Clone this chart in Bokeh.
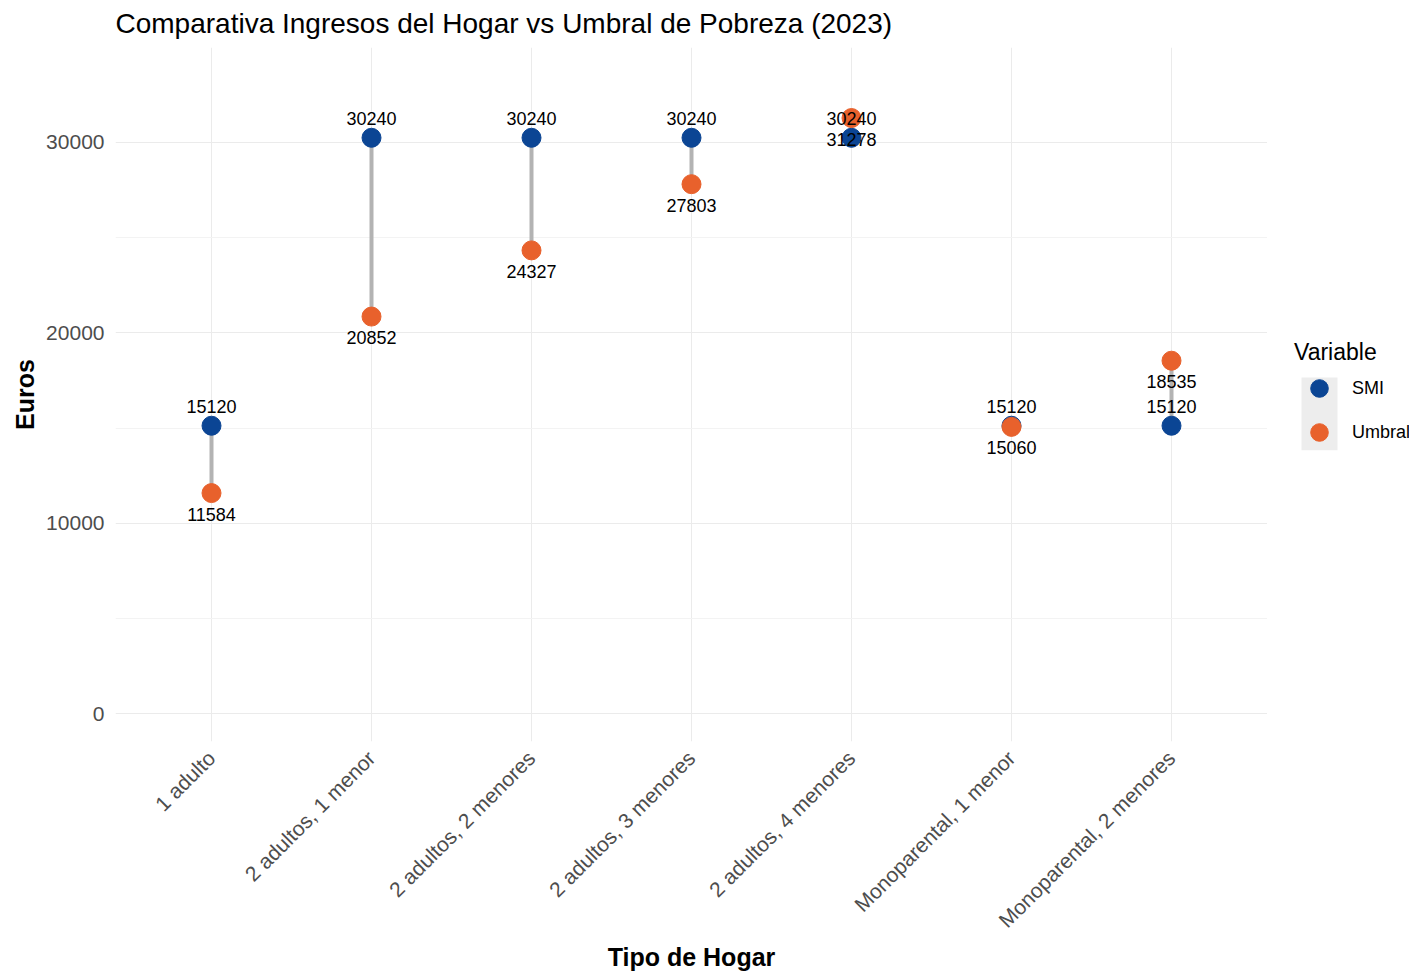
import numpy as np
from bokeh.plotting import figure
from bokeh.layouts import row
from bokeh.models import (ColumnDataSource, Range1d, FixedTicker, Legend, LegendItem)
from bokeh.embed import file_html
from bokeh.resources import INLINE
from bokeh.core.properties import value

categories = ["1 adulto", "2 adultos, 1 menor", "2 adultos, 2 menores", "2 adultos, 3 menores",
              "2 adultos, 4 menores", "Monoparental, 1 menor", "Monoparental, 2 menores"]
smi = [15120, 30240, 30240, 30240, 30240, 15120, 15120]
umbral = [11584, 20852, 24327, 27803, 31278, 15060, 18535]
series = ["SMI", "Umbral"]

BLUE = "#0B4594"
ORANGE = "#E8612C"
FONT = "Liberation Sans"

xs = list(range(len(categories)))
src = ColumnDataSource(dict(x=xs, smi=smi, umbral=umbral,
                            smi_lab=[str(v) for v in smi],
                            umb_lab=[str(v) for v in umbral]))

p = figure(width=1267, height=973, output_backend="svg", toolbar_location=None,
           x_range=Range1d(-0.6, 6.6), y_range=Range1d(-1460, 34980),
           min_border_left=115, min_border_top=47, min_border_bottom=230, min_border_right=0,
           background_fill_color="white", border_fill_color="white", outline_line_color=None)

p.title.text = "Comparativa Ingresos del Hogar vs Umbral de Pobreza (2023)"
p.title.text_font = FONT
p.title.text_font_size = "28px"
p.title.text_font_style = "normal"
p.title.text_color = "black"
p.title.vertical_align = "top"
p.title.standoff = 13

p.segment(x0="x", y0="smi", x1="x", y1="umbral", source=src, line_color="#B3B3B3", line_width=4)
p.scatter(x="x", y="smi", source=src, size=19, fill_color=BLUE, line_color=BLUE)
p.scatter(x="x", y="umbral", source=src, size=19, fill_color=ORANGE, line_color=ORANGE)

p.text(x="x", y="smi", text="smi_lab", source=src, y_offset=-19, text_align="center",
       text_baseline="middle", text_font=value(FONT), text_font_size="18px", text_color="black")
p.text(x="x", y="umbral", text="umb_lab", source=src, y_offset=21, text_align="center",
       text_baseline="middle", text_font=value(FONT), text_font_size="18px", text_color="black")

# axes
p.xaxis.ticker = FixedTicker(ticks=xs)
p.xaxis.major_label_overrides = {i: c for i, c in enumerate(categories)}
p.xaxis.major_label_orientation = np.pi / 4
p.yaxis.ticker = FixedTicker(ticks=[0, 10000, 20000, 30000], minor_ticks=[5000, 15000, 25000])
for ax in (p.xaxis, p.yaxis):
    ax.axis_line_color = None
    ax.major_tick_line_color = None
    ax.minor_tick_line_color = None
    ax.major_tick_out = 0
    ax.minor_tick_out = 0
    ax.major_label_text_font = FONT
    ax.major_label_text_font_size = "21px"
    ax.major_label_text_color = "#4D4D4D"
    ax.axis_label_text_font = FONT
    ax.axis_label_text_font_size = "25px"
    ax.axis_label_text_font_style = "bold"
    ax.axis_label_text_color = "black"
p.xaxis.axis_label = "Tipo de Hogar"
p.yaxis.axis_label = "Euros"
p.xaxis.major_label_standoff = 13
p.yaxis.major_label_standoff = 11
p.xaxis.axis_label_standoff = 0
p.yaxis.axis_label_standoff = 4

p.xgrid.grid_line_color = "#EBEBEB"
p.ygrid.grid_line_color = "#EBEBEB"
p.ygrid.minor_grid_line_color = "#F3F3F3"
p.xgrid.grid_line_width = 1
p.ygrid.grid_line_width = 1

# legend panel (separate figure to the right of the plot; its frame aligns with the plot frame)
lg = figure(width=142, height=973, output_backend="svg", toolbar_location=None,
            x_range=Range1d(0, 142), y_range=Range1d(230, 926),
            min_border=0, outline_line_color=None, background_fill_color="white",
            border_fill_color="white")
lg.axis.visible = False
lg.grid.visible = False
lg.quad(left=[34], right=[70], bottom=[522], top=[595], fill_color="#EDEDED", line_color=None)
k_smi = lg.scatter(x=[-1000], y=[-1000], size=19, fill_color=BLUE, line_color=BLUE)
k_umb = lg.scatter(x=[-1000], y=[-1000], size=19, fill_color=ORANGE, line_color=ORANGE)

legend = Legend(items=[LegendItem(label=series[0], renderers=[k_smi]),
                       LegendItem(label=series[1], renderers=[k_umb])],
                title="Variable", location=(27, 287))
legend.title_text_font = FONT
legend.title_text_font_size = "23px"
legend.title_text_font_style = "normal"
legend.title_text_color = "black"
legend.title_standoff = 0
legend.label_text_font = FONT
legend.label_text_font_size = "18px"
legend.label_text_color = "black"
legend.label_standoff = 8
legend.border_line_color = None
legend.background_fill_alpha = 0
legend.glyph_width = 50
legend.glyph_height = 44
legend.label_height = 44
legend.spacing = 0
legend.padding = 0
legend.margin = 0
lg.add_layout(legend, "center")

layout = row(p, lg, spacing=0)
open("out.html", "w").write(file_html(layout, INLINE))
